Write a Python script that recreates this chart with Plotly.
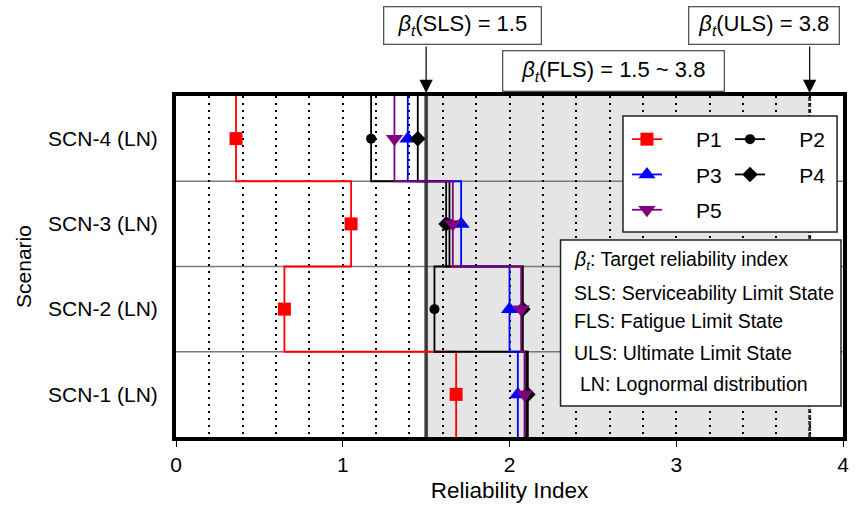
import plotly.graph_objects as go

# ---------------- data ----------------
scenarios = ["SCN-1 (LN)", "SCN-2 (LN)", "SCN-3 (LN)", "SCN-4 (LN)"]
scn_pos = [1, 2, 3, 4]
series_names = ["P1", "P2", "P3", "P4", "P5"]
P1 = [1.68, 0.65, 1.05, 0.36]
P2 = [2.10, 1.55, 1.64, 1.17]
P3 = [2.05, 2.00, 1.71, 1.39]
P4 = [2.11, 2.08, 1.62, 1.45]
P5 = [2.09, 2.07, 1.66, 1.31]
beta_SLS = 1.5
beta_FLS = [1.5, 3.8]
beta_ULS = 3.8
x_ticks = [0, 1, 2, 3, 4]

colors = ["#ff0000", "#000000", "#0000ff", "#000000", "#800080"]
symbols = ["square", "circle", "triangle-up", "diamond", "triangle-down"]
msizes = [13, 10, 15, 12, 15]
legend_ids = ["legend", "legend2", "legend", "legend2", "legend"]

FONT = "Arial, Liberation Sans, sans-serif"
NB = "\u00a0"

# plot area in pixels (for placing paper-referenced boxes)
W, H = 855, 506
L, R, T, B = 176, 6, 96, 69
PW, PH = W - L - R, H - T - B


def px(xp):
    return (xp - L) / PW


def py(yp):
    return (H - B - yp) / PH


fig = go.Figure()

all_series = [P1, P2, P3, P4, P5]
for name, vals, c, s, ms, lg in zip(series_names, all_series, colors, symbols, msizes, legend_ids):
    xs, ys = [], []
    for v, p in zip(vals, scn_pos):
        xs += [v, v]
        ys += [p - 0.5, p + 0.5]
    fig.add_trace(go.Scatter(x=xs, y=ys, mode="lines", line=dict(color=c, width=1.8),
                             showlegend=False, legendgroup=name, hoverinfo="skip"))
    mx, my = [], []
    for v, p in zip(vals, scn_pos):
        mx += [v, None]
        my += [p, None]
    fig.add_trace(go.Scatter(x=mx, y=my, mode="lines+markers", name=NB * 5 + name,
                             line=dict(color=c, width=1.8), connectgaps=False,
                             marker=dict(symbol=s, size=ms, color=c),
                             legend=lg, legendgroup=name))

shapes = []
# shaded FLS region
shapes.append(dict(type="rect", xref="x", yref="paper", x0=beta_FLS[0], x1=beta_FLS[1], y0=0, y1=1,
                   fillcolor="#e5e5e5", line=dict(width=0), layer="below"))
# scenario band separators
for p in scn_pos[:-1]:
    shapes.append(dict(type="line", xref="paper", yref="y", x0=0, x1=1, y0=p + 0.5, y1=p + 0.5,
                       line=dict(color="#7a7a7a", width=1.5), layer="between"))
# target lines
shapes.append(dict(type="line", xref="x", yref="paper", x0=beta_SLS, x1=beta_SLS, y0=0, y1=1,
                   line=dict(color="#3c3c3c", width=3.5), layer="between"))
shapes.append(dict(type="line", xref="x", yref="paper", x0=beta_ULS, x1=beta_ULS, y0=0, y1=1,
                   line=dict(color="#3c3c3c", width=3, dash="4px,2px"), layer="between"))
# legend box
shapes.append(dict(type="rect", xref="paper", yref="paper", x0=px(627), x1=px(843), y0=py(232), y1=py(116),
                   fillcolor="white", line=dict(color="#222222", width=1.5), layer="above"))
# text box
shapes.append(dict(type="rect", xref="paper", yref="paper", x0=px(564), x1=px(847), y0=py(406), y1=py(240),
                   fillcolor="white", line=dict(color="#222222", width=1.5), layer="above"))

annotations = []
box_style = dict(showarrow=False, bordercolor="#555555", borderwidth=1.3, bgcolor="white",
                 font=dict(family=FONT, size=22, color="black"), borderpad=0,
                 xanchor="center", yanchor="middle")
annotations.append(dict(text="<i>β</i><sub><i>t</i></sub>(SLS) = 1.5", xref="paper", yref="paper",
                        x=px(465.5), y=py(26), width=156, height=36, **box_style))
annotations.append(dict(text="<i>β</i><sub><i>t</i></sub>(FLS) = 1.5 ~ 3.8", xref="paper", yref="paper",
                        x=px(617), y=py(70.5), width=220, height=39, **box_style))
annotations.append(dict(text="<i>β</i><sub><i>t</i></sub>(ULS) = 3.8", xref="paper", yref="paper",
                        x=px(769.5), y=py(26), width=149, height=36, **box_style))
for xv in [beta_SLS, beta_ULS]:
    annotations.append(dict(text="", x=xv, xref="x", y=py(93), yref="paper", showarrow=True,
                            ax=0, ay=-48, arrowhead=2, arrowsize=2.2, arrowwidth=1.2,
                            arrowcolor="black"))

note_lines = [("<i>β</i><sub><i>t</i></sub>: Target reliability index", 576, 260.7),
              ("SLS: Serviceability Limit State", 576, 292.7),
              ("FLS: Fatigue Limit State", 576, 321),
              ("ULS: Ultimate Limit State", 576, 353),
              ("LN: Lognormal distribution", 582, 383.5)]
for txt, xp, yp in note_lines:
    annotations.append(dict(text=txt, xref="paper", yref="paper", x=px(xp), y=py(yp),
                            xanchor="left", yanchor="middle", showarrow=False,
                            font=dict(family=FONT, size=19.5, color="black")))

leg_common = dict(bgcolor="rgba(0,0,0,0)", borderwidth=0, font=dict(family=FONT, size=21, color="black"),
                  xanchor="left", yanchor="top", tracegroupgap=5, orientation="v")

fig.update_layout(
    width=W, height=H,
    margin=dict(l=L, r=R, t=T, b=B),
    paper_bgcolor="white", plot_bgcolor="white",
    font=dict(family=FONT, size=21, color="black"),
    shapes=shapes, annotations=annotations,
    legend=dict(x=px(631), y=py(119), **leg_common),
    legend2=dict(x=px(735), y=py(119), **leg_common),
    xaxis=dict(range=[0, 4], tickvals=x_ticks, ticktext=[str(t) for t in x_ticks],
               showline=True, linecolor="black", linewidth=4, mirror=True,
               ticks="outside", ticklen=6, tickcolor="black", tickwidth=1,
               showgrid=True, gridcolor="black", gridwidth=2, griddash="2px,5px",
               minor=dict(dtick=0.2, showgrid=True, gridcolor="black", gridwidth=2, griddash="2px,5px"),
               zeroline=False, tickfont=dict(size=21),
               title=dict(text="Reliability Index", font=dict(size=22.5), standoff=8)),
    yaxis=dict(range=[0.5, 4.5], tickvals=scn_pos, ticktext=scenarios,
               showline=True, linecolor="black", linewidth=4, mirror=True,
               ticks="", showgrid=False, zeroline=False, tickfont=dict(size=21),
               ticklabelstandoff=10,
               title=dict(text="Scenario", font=dict(size=21), standoff=12)),
)

fig.write_html("out.html")
